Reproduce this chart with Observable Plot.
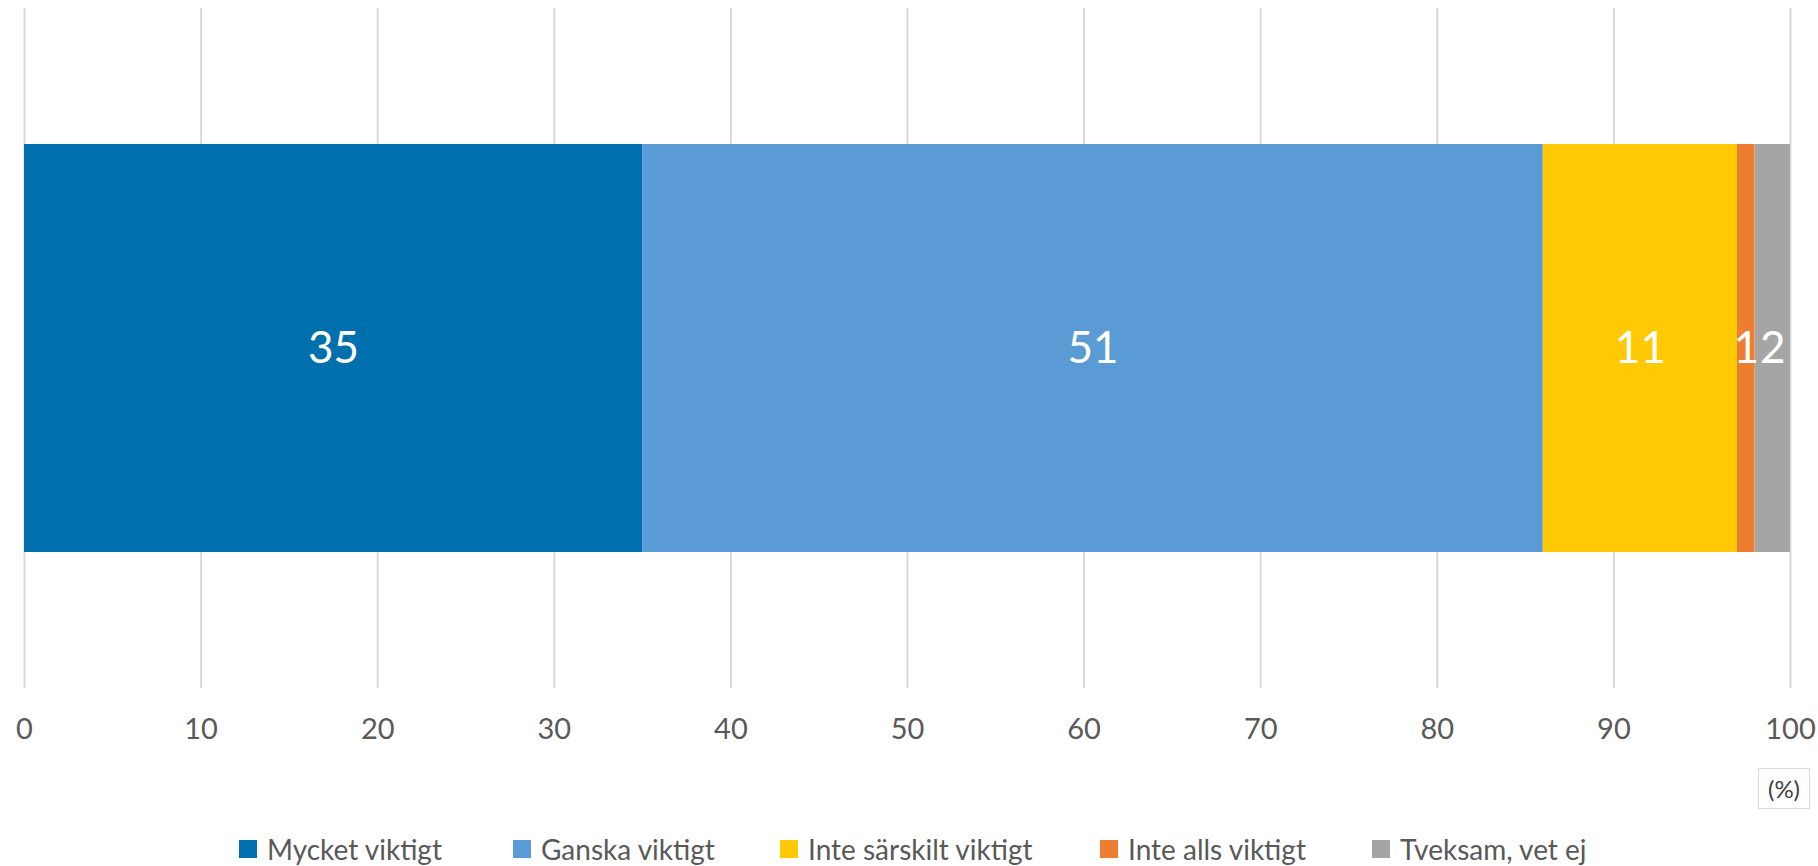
<!DOCTYPE html>
<html>
<head>
<meta charset="utf-8">
<script src="https://cdn.jsdelivr.net/npm/d3@7"></script>
<script src="https://cdn.jsdelivr.net/npm/@observablehq/plot@0.6"></script>
<style>
  html, body { margin: 0; padding: 0; background: #fff; }
  body { width: 1818px; height: 866px; position: relative; overflow: hidden; font-family: Lato, "Open Sans", sans-serif; }
  #chart { position: absolute; left: 0; top: 0; }
  #unit { position: absolute; left: 1758px; top: 768px; width: 50px; height: 39px; border: 1px solid #d9d9d9; box-sizing: content-box; color: #404040; font-size: 24px; line-height: 39px; text-align: center; }
  #legend { position: absolute; left: 0; top: 834px; width: 1818px; height: 32px; }
  .item { position: absolute; top: 0; display: flex; align-items: center; height: 30px; color: #595959; font-size: 28px; white-space: nowrap; }
  .sw { width: 18px; height: 18px; margin-right: 10px; }
</style>
</head>
<body>
<div id="chart"></div>
<div id="unit">(%)</div>
<div id="legend"></div>
<script>
const categories = ["Mycket viktigt", "Ganska viktigt", "Inte särskilt viktigt", "Inte alls viktigt", "Tveksam, vet ej"];
const values = [35, 51, 11, 1, 2];
const colors = ["#006FAD", "#5B9BD5", "#FFC905", "#ED7D31", "#A5A5A5"];
const xTicks = [0, 10, 20, 30, 40, 50, 60, 70, 80, 90, 100];
const legendLeft = [239, 513, 780, 1100, 1372];

const data = categories.map((c, i) => ({category: c, value: values[i], row: "all"}));

const chart = Plot.plot({
  width: 1818,
  height: 830,
  marginLeft: 24,
  marginRight: 28,
  marginTop: 8,
  marginBottom: 142,
  style: {fontFamily: "Lato, 'Open Sans', sans-serif", background: "#fff"},
  x: {domain: [0, 100], ticks: xTicks, label: null},
  y: {domain: ["all"], padding: 0.25, axis: null},
  color: {domain: categories, range: colors},
  marks: [
    Plot.gridX(xTicks, {stroke: "#d9d9d9", strokeOpacity: 1, strokeWidth: 2}),
    Plot.barX(data, Plot.stackX({x: "value", y: "row", fill: "category", z: "category", order: categories})),
    Plot.text(data, Plot.stackX({x: "value", y: "row", z: "category", text: d => String(d.value), order: categories, fill: "white", fontSize: 44})),
    Plot.axisX(xTicks, {tickSize: 0, tickPadding: 30, fontSize: 29, fill: "#595959", label: null, tickFormat: d => String(d)})
  ]
});
document.getElementById("chart").append(chart);

const legend = document.getElementById("legend");
categories.forEach((c, i) => {
  const item = document.createElement("div");
  item.className = "item";
  item.style.left = legendLeft[i] + "px";
  const sw = document.createElement("span");
  sw.className = "sw";
  sw.style.background = colors[i];
  const t = document.createElement("span");
  t.textContent = c;
  item.append(sw, t);
  legend.append(item);
});
</script>
</body>
</html>
